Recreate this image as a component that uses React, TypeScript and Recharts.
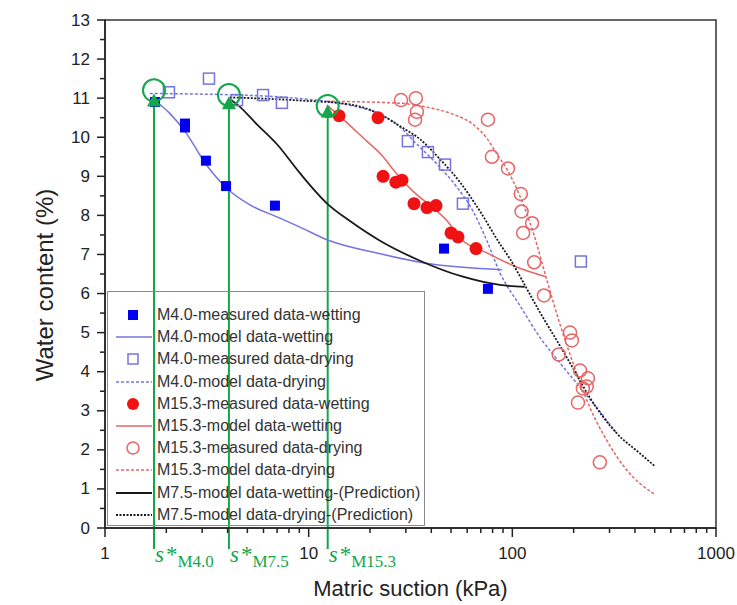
import React from 'react'
import {
  ComposedChart,
  Scatter,
  XAxis,
  YAxis,
  ReferenceLine,
  ReferenceDot,
  ReferenceArea,
  Legend,
  Label,
} from 'recharts'

type Pt = { x: number; y: number }

const SANS = '"Liberation Sans", Arial, sans-serif'
const SERIF = '"Liberation Serif", "Times New Roman", serif'
const GREEN = '#14a64a'

// measured points (suction kPa, water content %)
const m40WetMeasured: Pt[] = [
  { x: 1.76, y: 10.9 }, { x: 2.47, y: 10.35 }, { x: 2.47, y: 10.25 }, { x: 3.13, y: 9.4 },
  { x: 3.93, y: 8.75 }, { x: 6.83, y: 8.25 }, { x: 46.2, y: 7.15 }, { x: 75.9, y: 6.12 },
]
const m40DryMeasured: Pt[] = [
  { x: 2.06, y: 11.15 }, { x: 3.24, y: 11.5 }, { x: 4.45, y: 10.95 }, { x: 5.97, y: 11.08 },
  { x: 7.39, y: 10.88 }, { x: 30.7, y: 9.9 }, { x: 38.5, y: 9.62 }, { x: 46.7, y: 9.3 },
  { x: 57.2, y: 8.3 }, { x: 217, y: 6.82 },
]
const m153WetMeasured: Pt[] = [
  { x: 14.1, y: 10.55 }, { x: 21.9, y: 10.5 }, { x: 23.2, y: 9.0 }, { x: 26.8, y: 8.85 },
  { x: 28.7, y: 8.9 }, { x: 32.9, y: 8.3 }, { x: 38.1, y: 8.2 }, { x: 42.2, y: 8.25 },
  { x: 50.0, y: 7.55 }, { x: 54.1, y: 7.45 }, { x: 66.3, y: 7.15 },
]
const m153DryMeasured: Pt[] = [
  { x: 28.4, y: 10.95 }, { x: 33.6, y: 11.0 }, { x: 34.0, y: 10.65 }, { x: 33.3, y: 10.45 },
  { x: 75.9, y: 10.45 }, { x: 79.4, y: 9.5 }, { x: 95.2, y: 9.2 }, { x: 110, y: 8.55 },
  { x: 111, y: 8.1 }, { x: 125, y: 7.8 }, { x: 113, y: 7.55 }, { x: 128, y: 6.8 },
  { x: 143, y: 5.95 }, { x: 192, y: 5.0 }, { x: 196, y: 4.8 }, { x: 169, y: 4.44 },
  { x: 215, y: 4.03 }, { x: 235, y: 3.83 }, { x: 222, y: 3.57 }, { x: 232, y: 3.62 },
  { x: 210, y: 3.21 }, { x: 269, y: 1.68 },
]

// model curves
const m40WetModel: Pt[] = [
  { x: 1.76, y: 10.94 }, { x: 2.08, y: 10.61 }, { x: 2.47, y: 10.15 }, { x: 3.13, y: 9.31 },
  { x: 4.01, y: 8.67 }, { x: 5.15, y: 8.27 }, { x: 7.23, y: 7.93 }, { x: 9.06, y: 7.7 },
  { x: 12.4, y: 7.37 }, { x: 22.4, y: 7.02 }, { x: 39.4, y: 6.76 }, { x: 88.9, y: 6.61 },
]
const m40DryModel: Pt[] = [
  { x: 1.66, y: 11.12 }, { x: 5.15, y: 11.07 }, { x: 9.06, y: 10.99 }, { x: 15.9, y: 10.82 },
  { x: 21.2, y: 10.64 }, { x: 27.1, y: 10.33 }, { x: 34.0, y: 9.82 }, { x: 42.7, y: 9.31 },
  { x: 53.5, y: 8.72 }, { x: 64.1, y: 8.11 }, { x: 75.0, y: 7.35 }, { x: 86.9, y: 6.53 },
  { x: 109, y: 5.69 }, { x: 137, y: 4.87 }, { x: 171, y: 4.23 }, { x: 215, y: 3.6 },
  { x: 269, y: 2.98 }, { x: 326, y: 2.42 },
]
const m153WetModel: Pt[] = [
  { x: 12.3, y: 10.82 }, { x: 14.2, y: 10.54 }, { x: 19.3, y: 9.9 }, { x: 22.4, y: 9.59 },
  { x: 27.1, y: 9.06 }, { x: 32.5, y: 8.62 }, { x: 40.8, y: 8.19 }, { x: 47.8, y: 7.86 },
  { x: 55.3, y: 7.42 }, { x: 75.0, y: 7.04 }, { x: 105, y: 6.68 }, { x: 146, y: 6.43 },
]
const m153DryModel: Pt[] = [
  { x: 12.3, y: 10.92 }, { x: 28.1, y: 10.87 }, { x: 38.1, y: 10.77 }, { x: 51.1, y: 10.59 },
  { x: 64.1, y: 10.33 }, { x: 75.0, y: 9.97 }, { x: 84.0, y: 9.57 }, { x: 94.1, y: 9.18 },
  { x: 109, y: 8.49 }, { x: 126, y: 7.6 }, { x: 148, y: 6.33 }, { x: 171, y: 5.23 },
  { x: 199, y: 4.21 }, { x: 240, y: 3.09 }, { x: 291, y: 2.24 }, { x: 365, y: 1.48 },
  { x: 496, y: 0.87 },
]
const m75WetModel: Pt[] = [
  { x: 4.1, y: 10.97 }, { x: 4.45, y: 10.84 }, { x: 5.57, y: 10.33 }, { x: 6.99, y: 9.82 },
  { x: 9.06, y: 9.08 }, { x: 12.4, y: 8.29 }, { x: 15.9, y: 7.86 }, { x: 22.4, y: 7.35 },
  { x: 35.2, y: 6.84 }, { x: 57.2, y: 6.43 }, { x: 86.9, y: 6.22 }, { x: 115, y: 6.17 },
]
const m75DryModel: Pt[] = [
  { x: 4.1, y: 11.02 }, { x: 9.06, y: 10.94 }, { x: 15.9, y: 10.84 }, { x: 22.4, y: 10.59 },
  { x: 28.1, y: 10.28 }, { x: 35.2, y: 9.95 }, { x: 44.1, y: 9.44 }, { x: 55.3, y: 8.85 },
  { x: 69.3, y: 8.11 }, { x: 86.9, y: 7.27 }, { x: 97.3, y: 6.89 }, { x: 115, y: 6.22 },
  { x: 137, y: 5.51 }, { x: 171, y: 4.67 }, { x: 199, y: 4.08 }, { x: 240, y: 3.34 },
  { x: 326, y: 2.42 }, { x: 423, y: 1.91 }, { x: 501, y: 1.58 },
]

// S* markers
const sStarX = [1.74, 4.06, 12.4]
const sStarNames = ['M4.0', 'M7.5', 'M15.3']
const sStarCircleY = [11.2, 11.08, 10.8]
const sStarTipY = [11.12, 11.05, 10.84]
const sStarBottomY = -0.54

const xTicks = [1, 2, 3, 4, 5, 6, 7, 8, 9, 10, 20, 30, 40, 50, 60, 70, 80, 90, 100, 200, 300, 400, 500, 600, 700, 800, 900, 1000]
const xMajor = [1, 10, 100, 1000]
const yTicks = [0, 0.5, 1, 1.5, 2, 2.5, 3, 3.5, 4, 4.5, 5, 5.5, 6, 6.5, 7, 7.5, 8, 8.5, 9, 9.5, 10, 10.5, 11, 11.5, 12, 12.5, 13]

const legendLabels = [
  'M4.0-measured data-wetting',
  'M4.0-model data-wetting',
  'M4.0-measured data-drying',
  'M4.0-model data-drying',
  'M15.3-measured data-wetting',
  'M15.3-model data-wetting',
  'M15.3-measured data-drying',
  'M15.3-model data-drying',
  'M7.5-model data-wetting-(Prediction)',
  'M7.5-model data-drying-(Prediction)',
]

const BLUE = '#0000ee'
const BLUE_LIGHT = '#7474e0'
const RED = '#f01212'
const RED_LIGHT = '#e86464'
const BLACK = '#1a1a1a'

const FilledSquare = (p: any) => <rect x={p.cx - 5} y={p.cy - 5} width={10} height={10} fill={BLUE} />
const OpenSquare = (p: any) => (
  <rect x={p.cx - 5.5} y={p.cy - 5.5} width={11} height={11} fill="none" stroke={BLUE_LIGHT} strokeWidth={1.5} />
)
const FilledCircle = (p: any) => <circle cx={p.cx} cy={p.cy} r={6.5} fill={RED} />
const OpenCircle = (p: any) => <circle cx={p.cx} cy={p.cy} r={6.5} fill="none" stroke={RED_LIGHT} strokeWidth={1.5} />
const NoDot = () => <g />

const XTick = (props: any) => {
  const { x, y, payload } = props
  const major = xMajor.includes(payload.value)
  return (
    <g>
      <line x1={x} x2={x} y1={y} y2={y + (major ? 9 : 5)} stroke="#222" strokeWidth={1.5} />
      {major && (
        <text x={x} y={y + 25} textAnchor="middle" dominantBaseline="central" fontSize={17} fill="#222" fontFamily={SANS}>
          {payload.value}
        </text>
      )}
    </g>
  )
}

const YTick = (props: any) => {
  const { x, y, payload } = props
  const major = Number.isInteger(payload.value)
  return (
    <g>
      <line x1={x - (major ? 8 : 5)} x2={x} y1={y} y2={y} stroke="#222" strokeWidth={1.5} />
      {major && (
        <text x={x - 15} y={y} textAnchor="end" dominantBaseline="central" fontSize={17} fill="#222" fontFamily={SANS}>
          {payload.value}
        </text>
      )}
    </g>
  )
}

const legendSymbol = (i: number) => {
  switch (i) {
    case 0: return <rect x={20} y={6} width={10} height={10} fill={BLUE} />
    case 1: return <line x1={8} x2={44} y1={11} y2={11} stroke={BLUE_LIGHT} strokeWidth={1.5} />
    case 2: return <rect x={20} y={6} width={10} height={10} fill="none" stroke={BLUE_LIGHT} strokeWidth={1.5} />
    case 3: return <line x1={8} x2={44} y1={11} y2={11} stroke={BLUE_LIGHT} strokeWidth={1.5} strokeDasharray="3 2" />
    case 4: return <circle cx={25} cy={11} r={6} fill={RED} />
    case 5: return <line x1={8} x2={44} y1={11} y2={11} stroke={RED_LIGHT} strokeWidth={1.5} />
    case 6: return <circle cx={25} cy={11} r={6} fill="none" stroke={RED_LIGHT} strokeWidth={1.5} />
    case 7: return <line x1={8} x2={44} y1={11} y2={11} stroke={RED_LIGHT} strokeWidth={1.5} strokeDasharray="3 2" />
    case 8: return <line x1={8} x2={44} y1={11} y2={11} stroke={BLACK} strokeWidth={1.8} />
    default: return <line x1={8} x2={44} y1={11} y2={11} stroke={BLACK} strokeWidth={1.8} strokeDasharray="2 1.5" />
  }
}

const renderLegend = () => (
  <div
    style={{
      width: 318,
      height: 235,
      border: '1px solid #8a8a8a',
      boxSizing: 'border-box',
      position: 'relative',
      fontFamily: SANS,
      fontSize: 16,
      color: '#333',
    }}
  >
    {legendLabels.map((label, i) => (
      <div
        key={label}
        style={{ position: 'absolute', left: 0, top: 12 + i * 22.2, height: 22, display: 'flex', alignItems: 'center', whiteSpace: 'nowrap' }}
      >
        <svg width={49} height={22} style={{ display: 'block' }}>{legendSymbol(i)}</svg>
        <span>{label}</span>
      </div>
    ))}
  </div>
)

const renderYTitle = (props: any) => {
  const vb = props.viewBox
  const cx = vb.x + 44
  const cy = vb.y + vb.height / 2 + 11
  return (
    <text x={cx} y={cy} transform={`rotate(-90, ${cx}, ${cy})`} textAnchor="middle" dominantBaseline="central" fontSize={24} fill="#222" fontFamily={SANS}>
      Water content  (%)
    </text>
  )
}

const renderXTitle = (props: any) => {
  const vb = props.viewBox
  return (
    <text x={vb.x + vb.width / 2} y={vb.y + 60} textAnchor="middle" dominantBaseline="central" fontSize={22} fill="#222" fontFamily={SANS}>
      Matric suction (kPa)
    </text>
  )
}

export default function App() {
  return (
    <div style={{ width: 737, height: 605 }}>
      <style>{'body { margin: 0; }'}</style>
      <ComposedChart width={737} height={605} margin={{ top: 20, right: 21, bottom: 0, left: 0 }}>
        <XAxis
          type="number"
          dataKey="x"
          scale="log"
          domain={[1, 1000]}
          ticks={xTicks}
          interval={0}
          allowDataOverflow
          tick={<XTick />}
          tickLine={false}
          tickSize={0}
          tickMargin={0}
          height={77}
          axisLine={{ stroke: '#222', strokeWidth: 1.5 }}
        >
          <Label content={renderXTitle} />
        </XAxis>
        <YAxis
          type="number"
          dataKey="y"
          domain={[0, 13]}
          ticks={yTicks}
          interval={0}
          allowDataOverflow
          tick={<YTick />}
          tickLine={false}
          tickSize={0}
          tickMargin={0}
          width={105}
          axisLine={{ stroke: '#222', strokeWidth: 1.5 }}
        >
          <Label content={renderYTitle} />
        </YAxis>
        <ReferenceArea x1={1} x2={1000} y1={0} y2={13} fill="none" fillOpacity={0} stroke="#333" strokeWidth={1.5} />

        <Scatter data={m40WetModel} line={{ stroke: BLUE_LIGHT, strokeWidth: 1.5 }} lineJointType="monotoneX" shape={NoDot} isAnimationActive={false} />
        <Scatter data={m40DryModel} line={{ stroke: BLUE_LIGHT, strokeWidth: 1.5, strokeDasharray: '3 2' }} lineJointType="monotoneX" shape={NoDot} isAnimationActive={false} />
        <Scatter data={m153WetModel} line={{ stroke: RED_LIGHT, strokeWidth: 1.5 }} lineJointType="monotoneX" shape={NoDot} isAnimationActive={false} />
        <Scatter data={m153DryModel} line={{ stroke: RED_LIGHT, strokeWidth: 1.5, strokeDasharray: '3 2' }} lineJointType="monotoneX" shape={NoDot} isAnimationActive={false} />
        <Scatter data={m75WetModel} line={{ stroke: BLACK, strokeWidth: 1.8 }} lineJointType="monotoneX" shape={NoDot} isAnimationActive={false} />
        <Scatter data={m75DryModel} line={{ stroke: BLACK, strokeWidth: 1.8, strokeDasharray: '2 1.5' }} lineJointType="monotoneX" shape={NoDot} isAnimationActive={false} />

        <Scatter data={m40WetMeasured} shape={FilledSquare} isAnimationActive={false} />
        <Scatter data={m40DryMeasured} shape={OpenSquare} isAnimationActive={false} />
        <Scatter data={m153WetMeasured} shape={FilledCircle} isAnimationActive={false} />
        <Scatter data={m153DryMeasured} shape={OpenCircle} isAnimationActive={false} />

        {sStarX.map((sx, i) => (
          <ReferenceLine
            key={`line-${i}`}
            segment={[{ x: sx, y: sStarBottomY }, { x: sx, y: sStarTipY[i] - 0.3 }]}
            stroke={GREEN}
            strokeWidth={2}
            ifOverflow="visible"
          />
        ))}
        {sStarX.map((sx, i) => (
          <ReferenceDot
            key={`arrow-${i}`}
            x={sx}
            y={sStarTipY[i]}
            ifOverflow="visible"
            shape={(p: any) => (
              <polygon points={`${p.cx},${p.cy} ${p.cx - 7},${p.cy + 13} ${p.cx + 7},${p.cy + 13}`} fill={GREEN} />
            )}
          />
        ))}
        {sStarX.map((sx, i) => (
          <ReferenceDot
            key={`circle-${i}`}
            x={sx}
            y={sStarCircleY[i]}
            r={11}
            fill="none"
            stroke={GREEN}
            strokeWidth={2}
            ifOverflow="visible"
          />
        ))}
        {sStarX.map((sx, i) => (
          <ReferenceDot
            key={`label-${i}`}
            x={sx}
            y={sStarBottomY}
            ifOverflow="visible"
            shape={(p: any) => (
              <text x={p.cx + 1} y={p.cy + 13} fill={GREEN} fontFamily={SERIF}>
                <tspan fontStyle="italic" fontSize={23}>s</tspan>
                <tspan fontSize={23} dx={2}>*</tspan>
                <tspan fontSize={17} dy={5}>{sStarNames[i]}</tspan>
              </text>
            )}
          />
        ))}

        <Legend
          content={renderLegend}
          layout="vertical"
          align="center"
          verticalAlign="middle"
          wrapperStyle={{ position: 'absolute', left: 107, top: 291, width: 318, height: 235 }}
        />
      </ComposedChart>
    </div>
  )
}
